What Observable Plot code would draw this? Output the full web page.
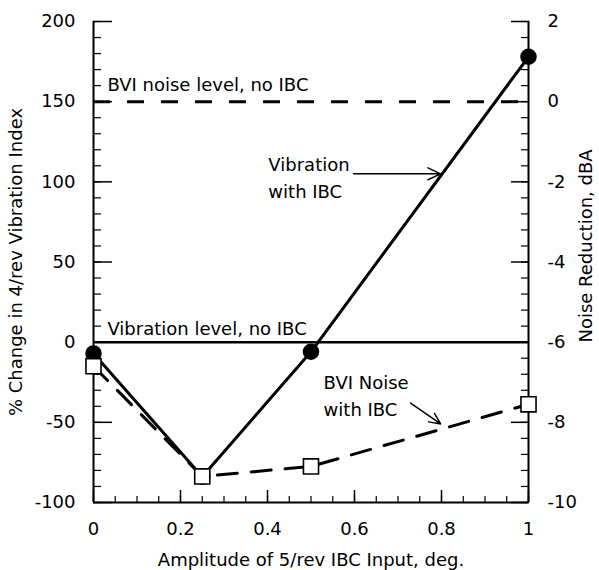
<!DOCTYPE html>
<html><head><meta charset="utf-8">
<script src="https://cdn.jsdelivr.net/npm/d3@7"></script>
<script src="https://cdn.jsdelivr.net/npm/@observablehq/plot@0.6"></script>
<style>
body{margin:0;background:#fff;}
#chart svg{font-family:"DejaVu Sans",sans-serif;}
</style>
</head><body><div id="chart"></div>
<script>
// Data
const amplitude = [0, 0.25, 0.5, 1];
const vibrationChange = [-7, -84, -6, 178];       // % change, left axis
const noiseReduction = [-6.6, -9.35, -9.1, -7.55]; // dBA, right axis
const vibrationLevelNoIBC = 0;   // %
const noiseLevelNoIBC = 0;       // dBA
// Ticks
const leftTicks = [-100, -50, 0, 50, 100, 150, 200];
const rightTicks = [2, 0, -2, -4, -6, -8, -10];
const xTicks = [0, 0.2, 0.4, 0.6, 0.8, 1];
const xTickLabels = ["0", "0.2", "0.4", "0.6", "0.8", "1"];
// Labels
const xLabel = "Amplitude of 5/rev IBC Input, deg.";
const leftLabel = "% Change in 4/rev Vibration Index";
const rightLabel = "Noise Reduction, dBA";
const levelNotes = [
  {x: 0.032, y: 160, text: "BVI noise level, no IBC"},
  {x: 0.032, y: 8, text: "Vibration level, no IBC"}
];
const curveNotes = [
  {x: 0.402, y: 104, text: "Vibration\nwith IBC"},
  {x: 0.529, y: -32, text: "BVI Noise\nwith IBC"}
];
const arrows = [
  {x1: 0.598, y1: 105, x2: 0.798, y2: 105},
  {x1: 0.729, y1: -38, x2: 0.798, y2: -51}
];

// dBA (right axis) -> % (left axis) mapping
const dBA = d => d * 25 + 150;

const vib = amplitude.map((x, i) => ({x, y: vibrationChange[i]}));
const noise = amplitude.map((x, i) => ({x, y: dBA(noiseReduction[i])}));

const minorY = d3.range(-100, 201, 10);
const minorX = d3.range(0, 1.0001, 0.05);

const plot = Plot.plot({
  width: 599, height: 570,
  marginTop: 21, marginBottom: 68, marginLeft: 93, marginRight: 71,
  style: {fontSize: "18px", fontFamily: "DejaVu Sans, sans-serif", background: "white", color: "black"},
  x: {domain: [0, 1]},
  y: {domain: [-100, 200]},
  marks: [
    // axis lines
    Plot.ruleX([0, 1], {strokeWidth: 2}),
    Plot.ruleY([-100], {strokeWidth: 2}),
    // left axis
    Plot.axisY(minorY, {anchor: "left", tickSize: -8, tickFormat: () => "", label: null, strokeWidth: 1.2}),
    Plot.axisY(leftTicks, {anchor: "left", tickSize: -19, tickPadding: 37, tickFormat: d => String(d), label: null, strokeWidth: 1.5}),
    // right axis
    Plot.axisY(minorY, {anchor: "right", tickSize: -8, tickFormat: () => "", label: null, strokeWidth: 1.2}),
    Plot.axisY(rightTicks.map(dBA), {anchor: "right", tickSize: -18, tickPadding: 37, tickFormat: (d, i) => String(rightTicks[i]), label: null, strokeWidth: 1.5}),
    // bottom axis
    Plot.axisX(minorX, {anchor: "bottom", tickSize: -6, tickFormat: () => "", label: null, strokeWidth: 1.2}),
    Plot.axisX(xTicks, {anchor: "bottom", tickSize: -12, tickPadding: 32, tickFormat: (d, i) => xTickLabels[i], label: null, strokeWidth: 1.5}),
    // reference levels
    Plot.ruleY([vibrationLevelNoIBC], {x1: 0, x2: 1, strokeWidth: 2.5}),
    Plot.ruleY([dBA(noiseLevelNoIBC)], {x1: 0, x2: 1, strokeWidth: 3, strokeDasharray: "17,17"}),
    // data
    Plot.line(vib, {x: "x", y: "y", strokeWidth: 3}),
    Plot.line(noise, {x: "x", y: "y", strokeWidth: 3, strokeDasharray: "20,14"}),
    Plot.dot(vib, {x: "x", y: "y", r: 7.5, fill: "black", stroke: "black"}),
    Plot.dot(noise, {x: "x", y: "y", r: 8.5, symbol: "square", fill: "white", stroke: "black", strokeWidth: 1.6}),
    // annotations
    Plot.text(levelNotes, {x: "x", y: "y", text: "text", textAnchor: "start", fontSize: 18}),
    Plot.text(curveNotes, {x: "x", y: "y", text: "text", textAnchor: "start", lineHeight: 1.5, fontSize: 18}),
    Plot.arrow(arrows, {x1: "x1", y1: "y1", x2: "x2", y2: "y2", strokeWidth: 1.5, headLength: 14, headAngle: 50}),
    // axis titles
    Plot.text([leftLabel], {frameAnchor: "left", rotate: -90, dx: -77, fontSize: 18, textAnchor: "middle", lineAnchor: "middle"}),
    Plot.text([rightLabel], {frameAnchor: "right", rotate: -90, dx: 58, dy: -16, fontSize: 18, textAnchor: "middle", lineAnchor: "middle"}),
    Plot.text([xLabel], {frameAnchor: "bottom", dy: 58, fontSize: 18, textAnchor: "middle", lineAnchor: "middle"})
  ]
});
document.getElementById("chart").appendChild(plot);
</script>
</body></html>
